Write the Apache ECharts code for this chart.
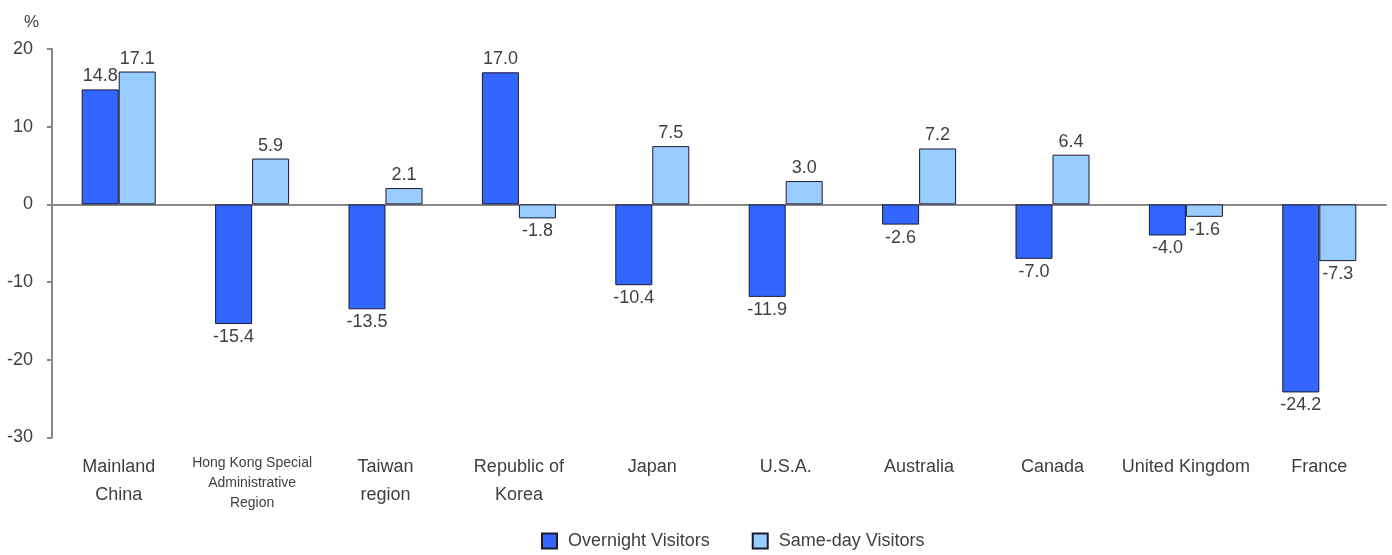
<!DOCTYPE html>
<html>
<head>
<meta charset="utf-8">
<script src="https://cdn.jsdelivr.net/npm/echarts@6/dist/echarts.min.js"></script>
<style>html,body{margin:0;padding:0;background:#fff}#c{width:1392px;height:555px}</style>
</head>
<body>
<div id="c"></div>
<script>
const categories = ['Mainland\nChina', 'Hong Kong Special\nAdministrative\nRegion', 'Taiwan\nregion', 'Republic of\nKorea', 'Japan', 'U.S.A.', 'Australia', 'Canada', 'United Kingdom', 'France'];
const overnight = [14.8, -15.4, -13.5, 17.0, -10.4, -11.9, -2.6, -7.0, -4.0, -24.2];
const sameDay = [17.1, 5.9, 2.1, -1.8, 7.5, 3.0, 7.2, 6.4, -1.6, -7.3];
const seriesNames = ['Overnight Visitors', 'Same-day Visitors'];

const FONT = "'Liberation Sans', Arial, sans-serif";
const TXT = '#404040';
const FS = 18;

function withLabels(arr) {
  return arr.map(v => ({ value: v, label: { position: v >= 0 ? 'top' : 'bottom' } }));
}

const chart = echarts.init(document.getElementById('c'));
chart.setOption({
  animation: false,
  textStyle: { fontFamily: FONT },
  title: { text: '%', left: 19, top: 9, textStyle: { fontFamily: FONT, fontSize: 17, fontWeight: 'normal', color: TXT } },
  grid: { left: 52, right: 6, top: 49, bottom: 117.5, containLabel: false },
  legend: {
    top: 527, left: 536, itemWidth: 15, itemHeight: 15, itemGap: 42, icon: 'rect',
    textStyle: { fontFamily: FONT, fontSize: FS, color: TXT, padding: [0, 0, 0, 6] },
    data: seriesNames
  },
  xAxis: {
    type: 'category', data: categories,
    axisLine: { onZero: true, lineStyle: { color: '#888', width: 2 } },
    axisTick: { show: false },
    axisLabel: {
      interval: 0, margin: 16, color: TXT, fontFamily: FONT, fontSize: FS, lineHeight: 28,
      formatter: function (v) { return v.indexOf('Hong Kong') === 0 ? '{s|' + v.split('\n').join('}\n{s|') + '}' : v; },
      rich: { s: { fontSize: 14, lineHeight: 20, color: TXT, fontFamily: FONT } }
    }
  },
  yAxis: {
    type: 'value', min: -30, max: 20, interval: 10,
    splitLine: { show: false },
    axisLine: { show: true, lineStyle: { color: '#888', width: 2 } },
    axisTick: { show: true, length: 5, lineStyle: { color: '#888', width: 2 } },
    axisLabel: { color: TXT, fontFamily: FONT, fontSize: FS, margin: 19 }
  },
  series: [
    {
      name: seriesNames[0], type: 'bar', data: withLabels(overnight), barWidth: 37, barGap: '0%',
      itemStyle: { color: '#3366FF', borderColor: '#1a1a33', borderWidth: 1 },
      label: { show: true, color: TXT, fontFamily: FONT, fontSize: FS, distance: 4, formatter: p => p.value.toFixed(1) }
    },
    {
      name: seriesNames[1], type: 'bar', data: withLabels(sameDay), barWidth: 37, barGap: '0%',
      itemStyle: { color: '#99CCFF', borderColor: '#1a1a33', borderWidth: 1 },
      label: { show: true, color: TXT, fontFamily: FONT, fontSize: FS, distance: 4, formatter: p => p.value.toFixed(1) }
    }
  ]
});
</script>
</body>
</html>
